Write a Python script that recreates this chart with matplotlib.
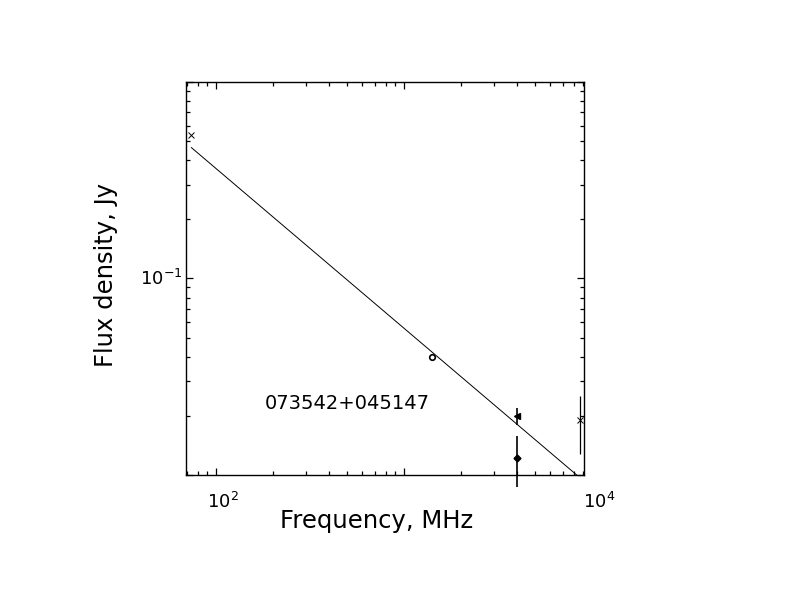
import numpy as np
import matplotlib.pyplot as plt

freq_cross = [74, 8600]
flux_cross = [0.54, 0.019]
err_cross = [0.0, 0.0062]

freq_circle = [1400]
flux_circle = [0.040]

freq_tri = [4000]
flux_tri = [0.020]
err_tri = [0.002]

freq_dia = [4000]
flux_dia = [0.0122]
err_dia = [0.0035]

# power-law fit S = S1000 * (nu/1000)^alpha
alpha = -0.813
s1000 = 0.0558
fit_range = [74, 8600]

source_name = "073542+045147"

W, H = 792, 612
fig = plt.figure(figsize=(W / 100, H / 100), dpi=100)
ax = fig.add_axes([0.2348, 0.2239, 0.5030, 0.6421])
ax.set_xscale('log')
ax.set_yscale('log')
ax.set_xlim(69.2, 9100)
ax.set_ylim(0.01, 1.0)

nu = np.logspace(np.log10(fit_range[0]), np.log10(fit_range[1]), 200)
ax.plot(nu, s1000 * (nu / 1000.0) ** alpha, color='black', lw=0.7)

ax.errorbar(freq_cross, flux_cross, yerr=err_cross, fmt='x', color='black',
            ms=5, mew=0.7, elinewidth=0.9, capsize=0, clip_on=False)
ax.plot(freq_circle, flux_circle, 'o', mfc='white', mec='black', ms=4, mew=1.2)
ax.errorbar(freq_tri, flux_tri, yerr=err_tri, fmt='<', color='black',
            ms=4, elinewidth=1.2, capsize=0, clip_on=False)
ax.errorbar(freq_dia, flux_dia, yerr=err_dia, fmt='D', color='black',
            ms=3.5, elinewidth=1.2, capsize=0, clip_on=False)

# axes styling
for sp in ax.spines.values():
    sp.set_linewidth(1.0)
ax.tick_params(which='both', direction='in', top=True, right=True,
               labelbottom=False, labelleft=False)
ax.tick_params(which='major', length=5, width=0.9)
ax.tick_params(which='minor', length=3, width=0.9)

# decade labels, placed like the original (10^4 sits past the axis end)
for dec, lab in [(100, '10$^{2}$'), (10000, '10$^{4}$')]:
    ax.annotate(lab, xy=(dec, 0), xycoords=('data', 'axes fraction'),
                xytext=(-9, -27), textcoords='offset pixels',
                ha='left', va='center', fontsize=13, annotation_clip=False)
ax.annotate('10$^{-1}$', xy=(0, 0.1), xycoords=('axes fraction', 'data'),
            xytext=(-3, 0), textcoords='offset pixels',
            ha='right', va='center', fontsize=13, annotation_clip=False)

fig.text(377 / W, 1 - 528 / H, 'Frequency, MHz', fontsize=17.5,
         ha='center', va='baseline')
fig.text(106 / W, 1 - 274.5 / H, 'Flux density, Jy', fontsize=17.5,
         rotation=90, ha='center', va='center')

ax.text(0.198, 0.181, source_name, transform=ax.transAxes, fontsize=14,
        ha='left', va='center')

fig.savefig('out.png', dpi=100)
